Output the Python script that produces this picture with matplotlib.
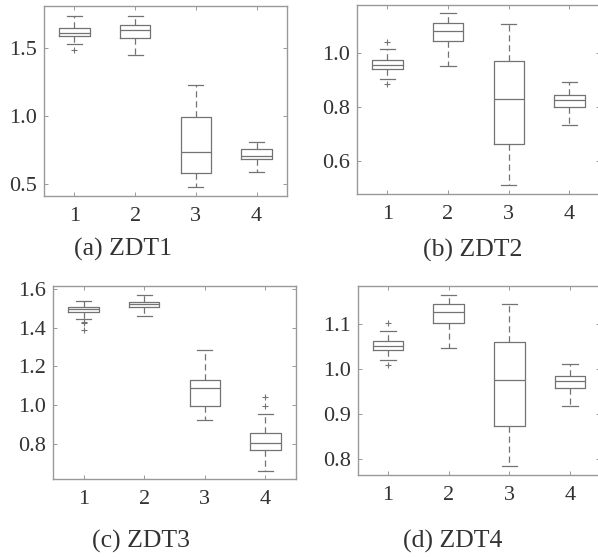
import numpy as np
import matplotlib
matplotlib.use("Agg")
import matplotlib.pyplot as plt
from matplotlib import font_manager

names = set(f.name for f in font_manager.fontManager.ttflist)
serif = [n for n in ['Liberation Serif', 'Times New Roman', 'DejaVu Serif'] if n in names]
plt.rcParams['font.family'] = 'serif'
plt.rcParams['font.serif'] = serif

# box statistics: whishi, q3, med, q1, whislo, fliers
# (a) ZDT1
a_hi = [1.74, 1.733, 1.228, 0.811]
a_q3 = [1.649, 1.667, 0.99, 0.755]
a_med = [1.608, 1.630, 0.733, 0.706]
a_q1 = [1.588, 1.571, 0.584, 0.681]
a_lo = [1.532, 1.451, 0.476, 0.59]
a_fl = [[1.485], [], [], []]

# (b) ZDT2
b_hi = [1.015, 1.148, 1.11, 0.893]
b_q3 = [0.974, 1.111, 0.970, 0.847]
b_med = [0.957, 1.081, 0.831, 0.827]
b_q1 = [0.942, 1.044, 0.663, 0.80]
b_lo = [0.904, 0.952, 0.511, 0.733]
b_fl = [[1.042, 0.886], [], [], []]

# (c) ZDT3
c_hi = [1.540, 1.569, 1.286, 0.955]
c_q3 = [1.508, 1.533, 1.128, 0.857]
c_med = [1.494, 1.521, 1.087, 0.802]
c_q1 = [1.481, 1.505, 0.995, 0.766]
c_lo = [1.446, 1.46, 0.922, 0.661]
c_fl = [[1.43, 1.422, 1.388], [], [], [1.041, 0.995]]

# (d) ZDT4
d_hi = [1.085, 1.164, 1.144, 1.011]
d_q3 = [1.062, 1.144, 1.059, 0.985]
d_med = [1.051, 1.126, 0.976, 0.973]
d_q1 = [1.042, 1.103, 0.874, 0.957]
d_lo = [1.019, 1.047, 0.784, 0.917]
d_fl = [[1.102, 1.009], [], [], []]

captions = ['(a) ZDT1', '(b) ZDT2', '(c) ZDT3', '(d) ZDT4']
xticks = [1, 2, 3, 4]

panels = [
    (a_hi, a_q3, a_med, a_q1, a_lo, a_fl, (0.412, 1.809), [0.5, 1.0, 1.5]),
    (b_hi, b_q3, b_med, b_q1, b_lo, b_fl, (0.479, 1.18), [0.6, 0.8, 1.0]),
    (c_hi, c_q3, c_med, c_q1, c_lo, c_fl, (0.616, 1.615), [0.8, 1.0, 1.2, 1.4, 1.6]),
    (d_hi, d_q3, d_med, d_q1, d_lo, d_fl, (0.764, 1.184), [0.8, 0.9, 1.0, 1.1]),
]

# axes rectangles in figure fraction
rects = [
    [0.0736, 0.648, 0.4064, 0.341],
    [0.597, 0.6517, 0.406, 0.3399],
    [0.0891, 0.1395, 0.4054, 0.347],
    [0.598, 0.1467, 0.406, 0.3398],
]
cap_pos = [(0.205, 0.553), (0.79, 0.551), (0.235, 0.028), (0.757, 0.028)]

line_c = '#737373'
spine_c = '#999999'
text_c = '#333333'

fig = plt.figure(figsize=(5.98, 5.57), dpi=100)

for k, (hi, q3, med, q1, lo, fl, ylim, yt) in enumerate(panels):
    ax = fig.add_axes(rects[k])
    stats = []
    for i in range(4):
        stats.append(dict(whishi=hi[i], q3=q3[i], med=med[i], q1=q1[i],
                          whislo=lo[i], fliers=fl[i]))
    ax.bxp(stats, positions=xticks, widths=0.5, capwidths=0.25,
           boxprops=dict(color=line_c, lw=0.9),
           medianprops=dict(color=line_c, lw=0.9),
           whiskerprops=dict(color=line_c, lw=0.9, linestyle=(0, (5, 3))),
           capprops=dict(color=line_c, lw=0.9),
           flierprops=dict(marker='+', markersize=4, markeredgecolor=line_c,
                           markeredgewidth=0.8, linestyle='none'))
    ax.set_xlim(0.5, 4.5)
    ax.set_ylim(*ylim)
    ax.set_xticks(xticks)
    ax.set_xticklabels([str(t) for t in xticks])
    ax.set_yticks(yt)
    ax.set_yticklabels(['%.1f' % v for v in yt])
    for s in ax.spines.values():
        s.set_color(spine_c)
        s.set_linewidth(1.0)
    ax.tick_params(direction='in', length=3, width=0.7, color=spine_c,
                   top=True, right=True, labelsize=16, labelcolor=text_c)
    ax.tick_params(axis='x', pad=8)
    ax.tick_params(axis='y', pad=5)
    fig.text(cap_pos[k][0], cap_pos[k][1], captions[k], ha='center', va='center',
             fontsize=18.5, color=text_c)

fig.savefig('out.png', dpi=100)
